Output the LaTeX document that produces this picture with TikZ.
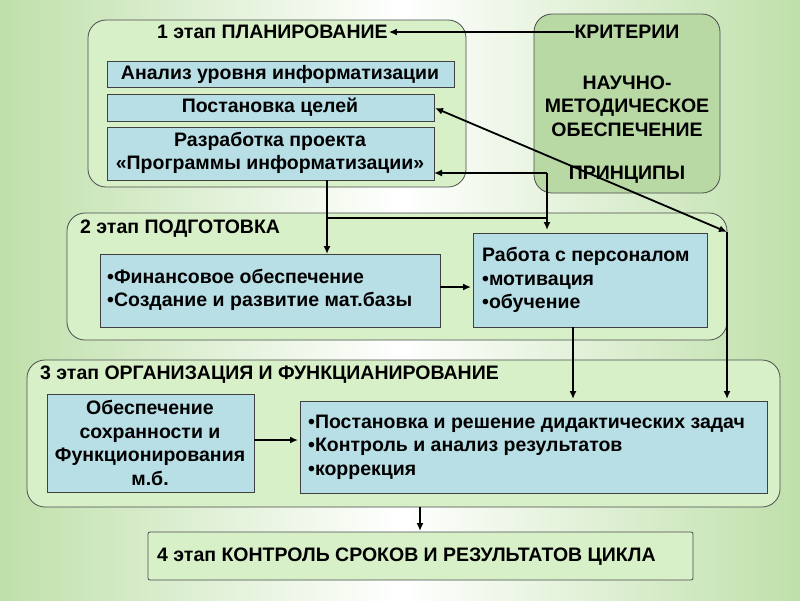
\documentclass[tikz,border=0pt]{standalone}
\usepackage{fontspec}
\setmainfont{Liberation Sans}
\usetikzlibrary{arrows.meta}
\definecolor{stagefill}{HTML}{D8F0C8}
\definecolor{boxfill}{HTML}{B8DEE6}
\definecolor{critfill}{HTML}{B8D8A4}
\definecolor{bgg}{HTML}{BFE0AA}
\tikzset{
 stage/.style={draw=black!70,line width=0.8pt,fill=stagefill,rounded corners=18pt},
 inbox/.style={draw=black!75,line width=0.8pt,fill=boxfill},
 txt/.style={font=\bfseries\fontsize{19.5}{23.5}\selectfont,inner sep=0pt},
 arr/.style={-{Latex[length=8pt,width=7pt]},line width=1.8pt},
}
\begin{document}
\begin{tikzpicture}[x=1pt,y=-1pt]
\shade[left color=bgg,right color=bgg,middle color=white] (0,0) rectangle (800,600);
\useasboundingbox (0,0) rectangle (800,600);
% stage boxes
\draw[stage] (88,20) rectangle (466,187);
\draw[stage,fill=critfill] (534,14) rectangle (720,193);
\draw[stage] (67,213) rectangle (727,340);
\draw[stage] (27,360) rectangle (780,507);
\draw[stage,rounded corners=2pt] (148,532) rectangle (693,580);
% inner boxes
\draw[inbox] (107,61) rectangle (454,87);
\draw[inbox] (107,94) rectangle (434,121);
\draw[inbox] (107,127) rectangle (434,180);
\draw[inbox] (100,254) rectangle (440,327);
\draw[inbox] (473,233) rectangle (707,327);
\draw[inbox] (47,394) rectangle (254,492);
\draw[inbox] (300,401) rectangle (767,493);
% texts
\node[txt,anchor=west] (t1) at (157,32) {1 этап ПЛАНИРОВАНИЕ};
\node[txt] (an) at (280,74) {Анализ уровня информатизации};
\node[txt] (pc) at (270,107) {Постановка целей};
\node[txt,align=center] (rp) at (270,153) {Разработка проекта\\«Программы информатизации»};
\node[txt] (kr) at (627,32) {КРИТЕРИИ};
\node[txt,align=center] (nm) at (627,106) {НАУЧНО-\\МЕТОДИЧЕСКОЕ\\ОБЕСПЕЧЕНИЕ};
\node[txt] (pr) at (627,175) {ПРИНЦИПЫ};
\node[txt,anchor=west] (t2) at (80,229) {2 этап ПОДГОТОВКА};
\node[txt,anchor=west,align=left] (fo) at (107,290) {•Финансовое обеспечение\\•Создание и развитие мат.базы};
\node[txt,anchor=west,align=left] (rs) at (482,280) {Работа с персоналом\\•мотивация\\•обучение};
\node[txt,anchor=west] (t3) at (40,375) {3 этап ОРГАНИЗАЦИЯ И ФУНКЦИАНИРОВАНИЕ};
\node[txt,align=center] (os) at (150,443) {Обеспечение\\сохранности и\\Функционирования\\м.б.};
\node[txt,anchor=west,align=left] (pz) at (308,447) {•Постановка и решение дидактических задач\\•Контроль и анализ результатов\\•коррекция};
\node[txt,anchor=west] (t4) at (157,557) {4 этап КОНТРОЛЬ СРОКОВ И РЕЗУЛЬТАТОВ ЦИКЛА};
% coordinates
\coordinate (j1) at (547,173);
\coordinate (j2) at (327,218);
\coordinate (j3) at (547,218);
\coordinate (d1) at (727,232);
% connectors
\draw[arr] (kr.west) -- ([xshift=1pt]t1.east);
\draw[arr] (j1) -- (434,173);
\draw[arr] (j1) -- (547,230);
\draw[line width=1.8pt] (327,180) -- (j2) -- (j3);
\draw[arr] (j2) -- (327,254);
\draw[arr,{Latex[length=8pt,width=7pt]}-{Latex[length=8pt,width=7pt]}] (435,108) -- (d1);
\draw[arr] (d1) -- (727,399);
\draw[arr] (573,327) -- (573,399);
\draw[arr] (440,287) -- (471,287);
\draw[arr] (254,440) -- (298,440);
\draw[arr] (420,507) -- (420,531);
\end{tikzpicture}
\end{document}
